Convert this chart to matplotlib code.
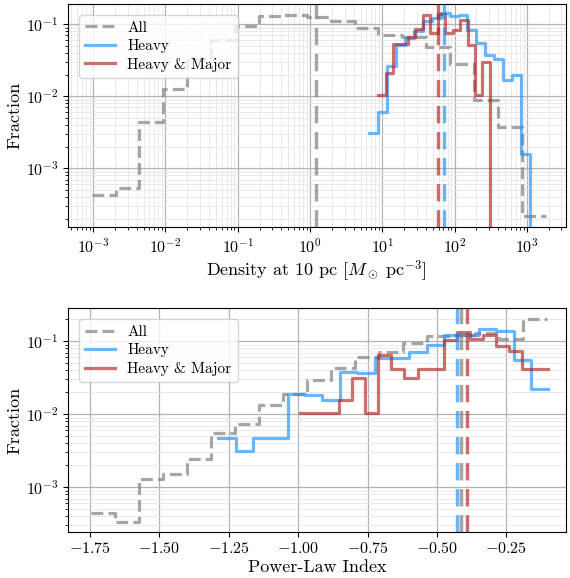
import numpy as np
import matplotlib
matplotlib.use("Agg")
import matplotlib.pyplot as plt

plt.rcParams['font.family'] = 'serif'
plt.rcParams['font.serif'] = ['cmr10']
plt.rcParams['mathtext.fontset'] = 'cm'
plt.rcParams['axes.formatter.use_mathtext'] = True

# density at 10 pc, bins uniform in log10
dens_all_range = (-3.02, 3.26)
dens_all = [4.3e-4, 5.4e-4, 4.4e-3, 0.0126, 0.032, 0.061, 0.093, 0.13, 0.135,
            0.125, 0.11, 0.088, 0.072, 0.066, 0.049, 0.028, 0.0088, 0.0037, 2.2e-4]
dens_heavy_range = (0.819, 3.041)
dens_heavy = [0.0031, 0.0061, 0.026, 0.052, 0.064, 0.081, 0.111, 0.121, 0.142,
              0.13, 0.135, 0.083, 0.055, 0.0376, 0.033, 0.017, 0.020, 0.00156]
dens_major_range = (0.943, 2.488)
dens_major = [0.0105, 0.021, 0.054, 0.054, 0.067, 0.085, 0.135, 0.075, 0.139,
              0.075, 0.083, 0.115, 0.052, 0.0105, 0.030]
dens_medians = {'All': 1.2, 'Heavy': 72.0, 'Heavy & Major': 59.0}

# power-law index, linear bins
slope_all_range = (-1.748, -0.103)
slope_all = [4.4e-4, 3.3e-4, 1.3e-3, 1.52e-3, 2.42e-3, 5.6e-3, 7.3e-3, 0.0132, 0.019,
             0.0298, 0.043, 0.061, 0.0707, 0.095, 0.116, 0.12, 0.128, 0.108, 0.203]
slope_heavy_range = (-1.288, -0.099)
slope_heavy = [4.66e-3, 3.15e-3, 4.66e-3, 4.66e-3, 0.019, 0.0185, 0.0158, 0.038, 0.037,
               0.059, 0.058, 0.0707, 0.088, 0.1235, 0.12, 0.145, 0.137, 0.056, 0.022]
slope_major_range = (-0.994, -0.099)
slope_major = [0.0104, 0.0104, 0.0104, 0.0158, 0.0314, 0.0104, 0.0637, 0.042, 0.0314,
               0.042, 0.042, 0.105, 0.133, 0.108, 0.12, 0.0855, 0.073, 0.042, 0.042]
slope_medians = {'All': -0.415, 'Heavy': -0.427, 'Heavy & Major': -0.393}

styles = {
    'All': dict(color='gray', alpha=0.7, ls='--'),
    'Heavy': dict(color='dodgerblue', alpha=0.65, ls='-'),
    'Heavy & Major': dict(color='firebrick', alpha=0.65, ls='-'),
}


def step_hist(ax, edges, vals, label, drop=False):
    vals = np.asarray(vals, dtype=float)
    y = np.append(vals, 0.0 if drop else vals[-1])
    ax.plot(edges, y, drawstyle='steps-post', lw=2.3, label=label, **styles[label])


def median_line(ax, x, label):
    st = dict(styles[label])
    st.pop('ls')
    ax.axvline(x, lw=2.5, ls=(0, (5, 2.5)), **st)


def style_axes(ax, minor_x=True):
    ax.grid(True, which='major', color='0.7', lw=0.9)
    if minor_x:
        ax.grid(True, which='minor', color='0.9', lw=0.6)
    else:
        ax.grid(True, which='minor', axis='y', color='0.9', lw=0.6)
    ax.set_axisbelow(True)
    ax.tick_params(labelsize=11.5)
    ax.set_ylabel('Fraction', fontsize=13, labelpad=2)
    ax.legend(loc='upper left', fontsize=11, borderaxespad=0.7, labelspacing=0.3)


def main():
    fig, (ax1, ax2) = plt.subplots(2, 1, figsize=(5.7, 5.78), dpi=100)
    fig.subplots_adjust(left=0.119, right=0.993, top=0.993, bottom=0.08, hspace=0.362)

    # top: density
    step_hist(ax1, np.logspace(*dens_all_range, len(dens_all) + 1), dens_all, 'All')
    step_hist(ax1, np.logspace(*dens_heavy_range, len(dens_heavy) + 1), dens_heavy,
              'Heavy', drop=True)
    step_hist(ax1, np.logspace(*dens_major_range, len(dens_major) + 1), dens_major,
              'Heavy & Major', drop=True)
    for name, x in dens_medians.items():
        median_line(ax1, x, name)
    ax1.set_xscale('log')
    ax1.set_yscale('log')
    ax1.set_xlim(10 ** -3.35, 10 ** 3.54)
    ax1.set_ylim(10 ** -3.82, 10 ** -0.72)
    ax1.set_xlabel(r'Density at 10 pc $[M_\odot\ \mathrm{pc}^{-3}]$', fontsize=13, labelpad=2)
    style_axes(ax1)

    # bottom: power-law index
    step_hist(ax2, np.linspace(*slope_all_range, len(slope_all) + 1), slope_all, 'All')
    step_hist(ax2, np.linspace(*slope_heavy_range, len(slope_heavy) + 1), slope_heavy, 'Heavy')
    step_hist(ax2, np.linspace(*slope_major_range, len(slope_major) + 1), slope_major,
              'Heavy & Major')
    for name in ['Heavy', 'All', 'Heavy & Major']:
        median_line(ax2, slope_medians[name], name)
    ax2.set_yscale('log')
    ax2.set_xlim(-1.83, -0.035)
    ax2.set_ylim(10 ** -3.61, 10 ** -0.55)
    ax2.set_xticks([-1.75, -1.5, -1.25, -1.0, -0.75, -0.5, -0.25])
    ax2.set_xlabel('Power-Law Index', fontsize=13, labelpad=2)
    style_axes(ax2, minor_x=False)

    fig.savefig('out.png', dpi=100)


if __name__ == "__main__":
    main()
